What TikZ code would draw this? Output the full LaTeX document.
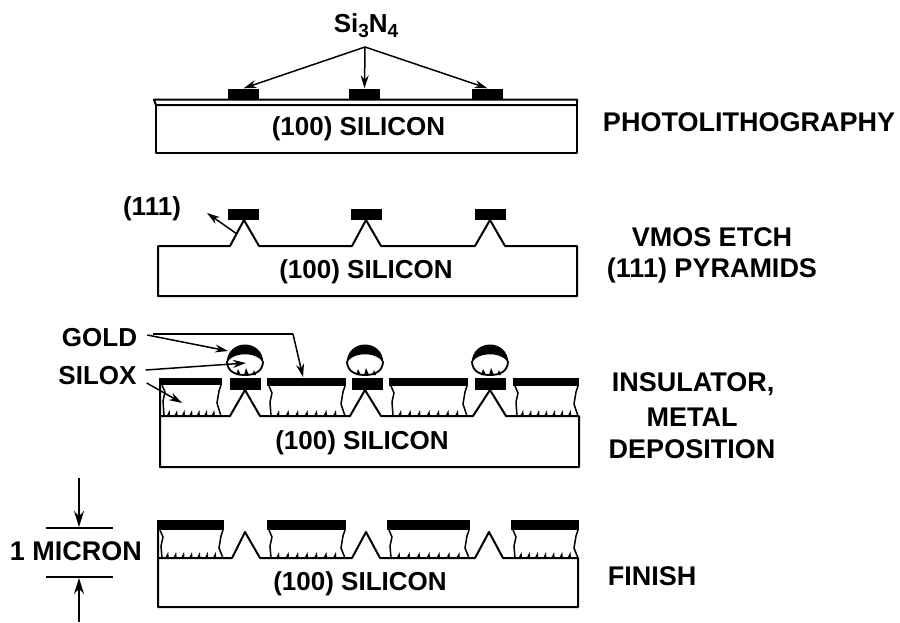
\documentclass[tikz,border=0pt]{standalone}
\usepackage{fontspec}
\setmainfont{Liberation Sans}
\usetikzlibrary{arrows.meta}
\tikzset{
  pad/.style={fill=black, inner sep=0pt, minimum width=31pt, minimum height=11pt},
  caption/.style={font=\fontsize{26}{30}\selectfont\bfseries, inner sep=1pt, align=center},
  sidelabel/.style={font=\fontsize{27}{30}\selectfont\bfseries, inner sep=0pt, align=center},
  wafer/.style={line width=2pt, line join=round},
  pointer/.style={line width=1.5pt, -{Stealth[length=13pt,width=8pt]}},
  wall/.style={line width=1.5pt},
}
% one silox block: left, right, top, gold thickness, base
\newcommand{\siloxblock}[5]{
\fill (#1,#3) rectangle (#2,#3+#4);
\draw[wall] (#1+2,#3+#4) -- (#1+5,#3+#4+7) -- (#1+3,#3+#4+16) -- (#1+4,#5);
\draw[wall] (#2-1,#3+#4) -- (#2-3,#3+#4+6) -- (#2-5,#3+#4+18) -- (#2-1,#5);
\foreach \sf in {.14,.26,.38,.5,.62,.74,.86} {
  \pgfmathsetmacro{\sx}{#1+\sf*(#2-#1)}
  \fill (\sx-2,#5) -- (\sx+1,#5-6) -- (\sx+1.5,#5) -- cycle;
}
}
% gold ball standing on a pad
\newcommand{\goldball}[1]{
\begin{scope}[shift={(#1,0)}]
\fill (-18.5,364) .. controls (-18.5,338) and (18.5,338) .. (18.5,364) .. controls (14,351) and (-14,351) .. cycle;
\draw[line width=1.8pt] (-18,361) .. controls (-18,372) and (-9,375) .. (0,375) .. controls (9,375) and (18,372) .. (18,361);
\fill (-9,375) -- (-7,369) -- (-4,375) -- cycle;
\fill (-1,375) -- (1,368) -- (4,375) -- cycle;
\fill (7,375) -- (9,370) -- (11,375) -- cycle;
\end{scope}
}

\begin{document}
\begin{tikzpicture}[x=1pt,y=-1pt]
\useasboundingbox (0,0) rectangle (900,622);

% photolithography
\draw[wafer] (154,99.5) -- (577,99.5) -- (577,105) -- (156,105) -- cycle;
\draw[wafer] (156,105) -- (156,153) -- (577,153) -- (577,105);
\node[pad] (pada) at (243.5,94) {};
\node[pad] (padb) at (364.5,94) {};
\node[pad] (padc) at (487.5,94) {};
\node[font=\fontsize{26}{28}\selectfont\bfseries, inner sep=1pt] (nitride) at (366,26) {Si\raisebox{-5pt}{\fontsize{19}{20}\selectfont 3}N\raisebox{-5pt}{\fontsize{19}{20}\selectfont 4}};
\coordinate (apex) at (365,47);
\draw[pointer] (apex) -- (pada.north);
\draw[pointer] (apex) -- (padb.north);
\draw[pointer] (apex) -- (padc.north);
\node[caption] (sia) at (358.5,129) {(100) SILICON};
\node[sidelabel] (photo) at (749,122) {PHOTOLITHOGRAPHY};

% vmos etch
\draw[wafer] (158,246) -- (230,246) -- (244,220) -- (259,246) -- (352,246) -- (366,220) -- (381,246) -- (475,246) -- (490,220) -- (505,246) -- (577,246) -- (577,296) -- (158,296) -- cycle;
\node[pad] (padd) at (243.5,214.5) {};
\node[pad] (pade) at (366,214.5) {};
\node[pad] (padf) at (490.5,214.5) {};
\node[caption] (miller) at (152,209) {(111)};
\coordinate (facet) at (237,234);
\coordinate (facetend) at (207,213);
\draw[pointer] (facet) -- (facetend);
\node[caption] (sib) at (366,272) {(100) SILICON};
\node[sidelabel] (vmos) at (712,237) {VMOS ETCH};
\node[sidelabel] (pyramids) at (712,271) {(111) PYRAMIDS};

% insulator, metal deposition
\siloxblock{160}{222}{378}{7}{416}
\siloxblock{267}{346}{378}{8}{416}
\siloxblock{389}{468}{378}{8}{416}
\siloxblock{513}{579}{378}{8}{416}
\draw[wafer] (160,378) -- (160,467) -- (579,467) -- (579,416) -- (506,416) -- (490,390) -- (473,416) -- (381,416) -- (365,390) -- (350,416) -- (260,416) -- (245,390) -- (230,416) -- (160,416);
\node[pad, minimum height=12pt] (padg) at (245.5,384) {};
\node[pad, minimum height=12pt] (padh) at (367,384) {};
\node[pad, minimum height=12pt] (padi) at (490.5,384) {};
\goldball{245}
\goldball{365}
\goldball{490}
\node[caption] (gold) at (99.5,338) {GOLD};
\node[caption] (silox) at (97.5,376) {SILOX};
\coordinate (ballcap) at (228,351);
\coordinate (goldbar) at (303,377);
\coordinate (goldbend) at (293,334);
\coordinate (ballin) at (246,363);
\coordinate (siloxin) at (182,403);
\draw[pointer] (gold.east) ++(9,-3) -- (ballcap);
\draw[line width=1.5pt] (gold.east) ++(15,-4) -- (goldbend);
\draw[pointer] (goldbend) -- (goldbar);
\draw[pointer] (silox.east) ++(8,-6) -- (ballin);
\draw[pointer] (silox.east) ++(9,7) -- (siloxin);
\node[caption] (sic) at (362,443) {(100) SILICON};
\node[sidelabel] (insul) at (693,384) {INSULATOR,};
\node[sidelabel] (metal) at (692,417) {METAL};
\node[sidelabel] (depos) at (692,449) {DEPOSITION};

% finish
\siloxblock{158}{224}{520}{10}{558}
\siloxblock{267}{346}{520}{10}{558}
\siloxblock{387}{470}{520}{10}{558}
\siloxblock{511}{579}{520}{10}{558}
\draw[wafer] (158,520) -- (158,607) -- (578,607) -- (578,558) -- (503,558) -- (489,532) -- (475,558) -- (380,558) -- (366,532) -- (352,558) -- (260,558) -- (245,532) -- (232,558) -- (158,558);
\node[caption] (sid) at (360,584) {(100) SILICON};
\node[sidelabel] (finish) at (652,576) {FINISH};
\node[sidelabel] (micron) at (76,551) {1 MICRON};
\coordinate (ticka) at (46,528);
\coordinate (tickaend) at (113,528);
\coordinate (tickb) at (46,577);
\coordinate (tickbend) at (113,577);
\coordinate (upper) at (79,478);
\coordinate (lower) at (79,622);
\draw[line width=1.5pt] (ticka) -- (tickaend);
\draw[line width=1.5pt] (tickb) -- (tickbend);
\draw[pointer, -{Stealth[length=16pt,width=10pt]}] (upper) -- (79,527);
\draw[pointer, -{Stealth[length=16pt,width=10pt]}] (lower) -- (79,578);
\end{tikzpicture}
\end{document}
